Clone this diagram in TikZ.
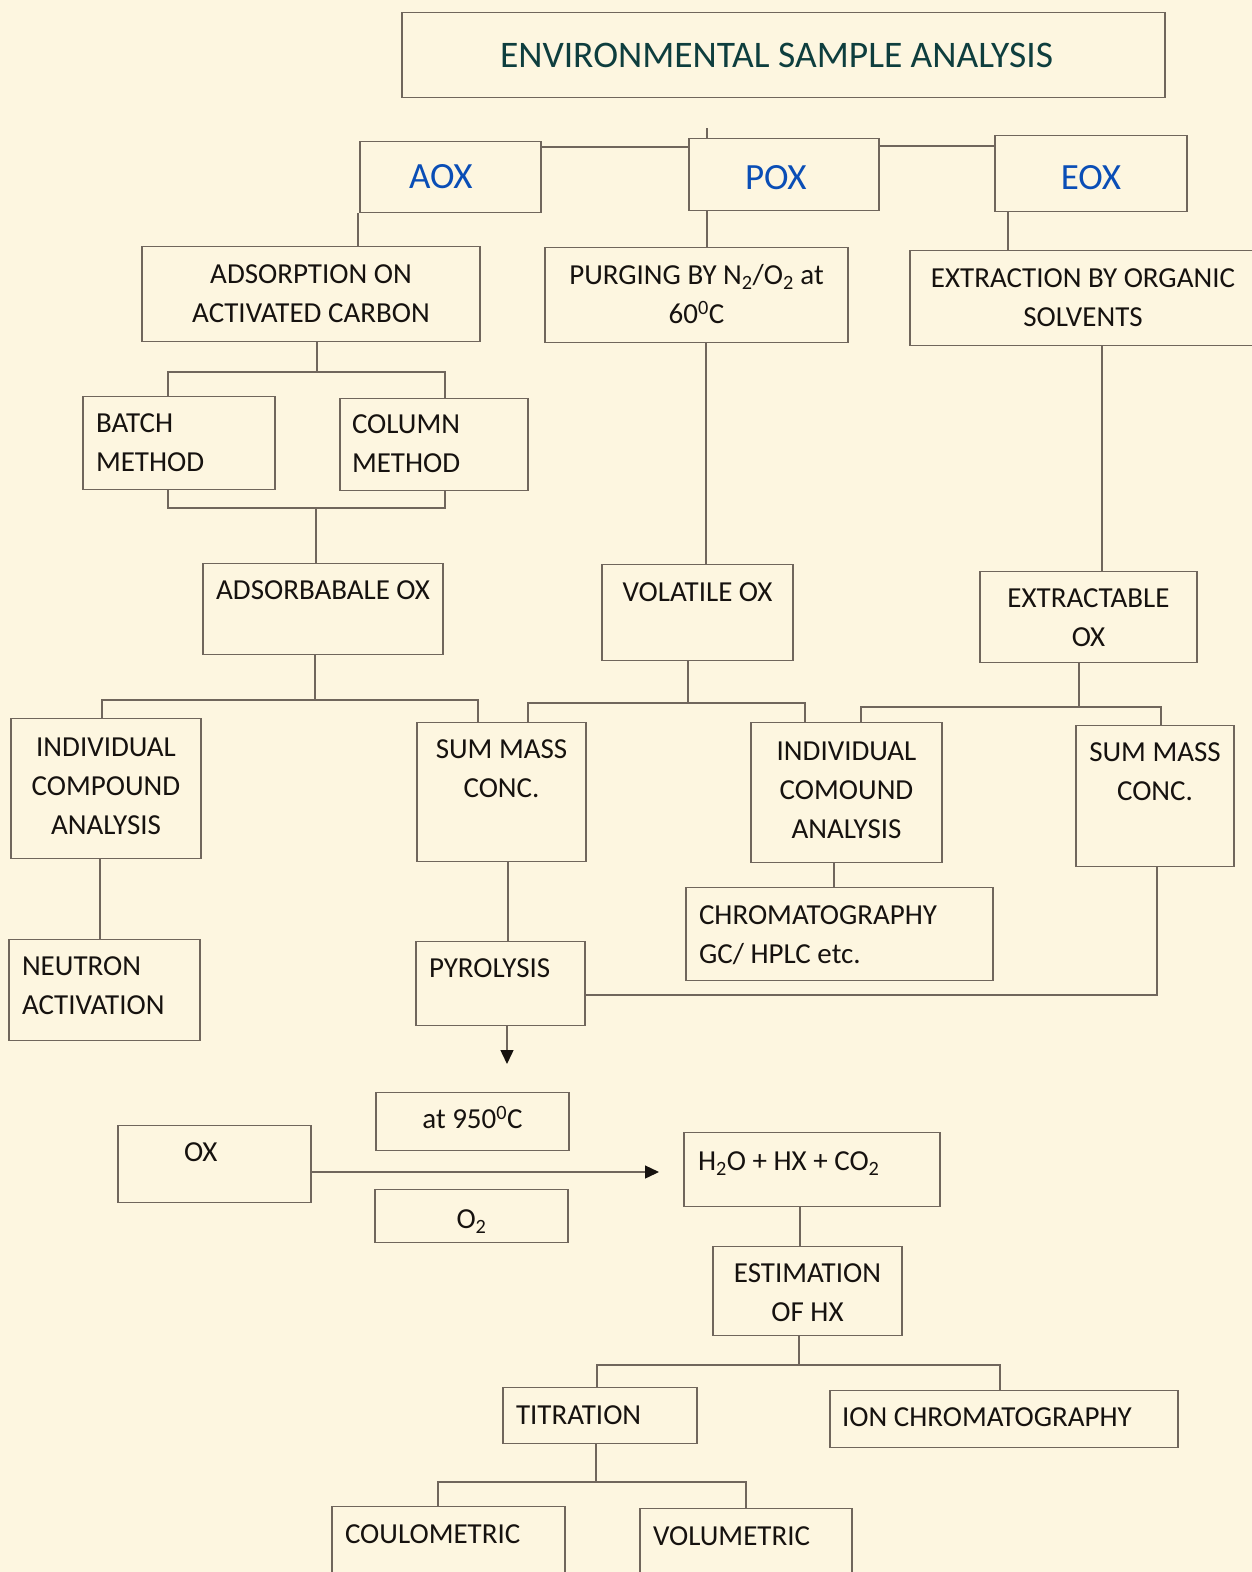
\documentclass[tikz,border=0pt]{standalone}
\usepackage{fontspec}
\setmainfont{Carlito}
\usetikzlibrary{arrows.meta}

\definecolor{paper}{RGB}{253,246,224}
\definecolor{edge}{RGB}{112,102,92}
\definecolor{ink}{RGB}{22,18,15}
\definecolor{titlec}{RGB}{14,62,62}
\definecolor{oxblue}{RGB}{10,78,182}

\begin{document}
\begin{tikzpicture}[x=1pt,y=-1pt,
  box/.style={draw=edge, line width=1.4pt, fill=paper, inner sep=0pt, anchor=north, text=ink, font=\fontsize{29}{39}\selectfont},
  head/.style={box, text=oxblue, font=\fontsize{37}{44}\selectfont},
  link/.style={draw=edge, line width=1.4pt},
  flow/.style={link, -{Triangle[length=14pt,width=13pt,color=ink]}}]
\fill[paper] (0,0) rectangle (1252,1572);
\useasboundingbox (0,0) rectangle (1252,1572);

\node[box, minimum width=763pt, text width=567pt, align=flush left, text height=54.5pt, text depth=30.5pt, text=titlec, font=\fontsize{37.5}{40}\selectfont] (title) at (783.5,12) {ENVIRONMENTAL SAMPLE ANALYSIS};

\node[head, minimum width=181pt, text width=83pt, align=flush left, text height=47pt, text depth=24pt] (aox) at (450.5,141) {AOX};
\node[head, minimum width=190pt, text width=78pt, align=flush left, text height=51pt, text depth=21pt] (pox) at (784,138) {POX};
\node[head, minimum width=192pt, text height=54pt, text depth=22pt] (eox) at (1091,135) {EOX};

\node[box, minimum width=338pt, text width=320pt, align=flush center, text height=36.5pt, text depth=58.5pt] (ads) at (311,246) {ADSORPTION ON\\ACTIVATED CARBON};
\node[box, minimum width=303pt, text width=290pt, align=flush center, text height=37pt, text depth=58pt] (purge) at (696.5,247) {PURGING BY N\textsubscript{2}/O\textsubscript{2} at\\60\textsuperscript{0}C};
\node[box, minimum width=346pt, text width=336pt, align=flush center, text height=36.5pt, text depth=58.5pt] (extr) at (1083,250) {EXTRACTION BY ORGANIC\\SOLVENTS};

\node[box, minimum width=192pt, text width=166pt, align=flush left, text height=35.5pt, text depth=57.5pt] (batch) at (179,396) {BATCH\\METHOD};
\node[box, minimum width=188pt, text width=164pt, align=flush left, text height=35pt, text depth=57pt] (column) at (434,398) {COLUMN\\METHOD};

\node[box, minimum width=240pt, text height=36pt, text depth=55pt] (adsox) at (323,563) {ADSORBABALE OX};
\node[box, minimum width=191pt, text height=37pt, text depth=59pt] (volox) at (697.5,564) {VOLATILE OX};
\node[box, minimum width=217pt, text width=205pt, align=flush center, text height=36pt, text depth=55pt] (extrox) at (1088.5,571) {EXTRACTABLE\\OX};

\node[box, minimum width=190pt, text width=180pt, align=flush center, text height=38pt, text depth=102pt] (indcomp) at (106,718) {INDIVIDUAL\\COMPOUND\\ANALYSIS};
\node[box, minimum width=169pt, text width=160pt, align=flush center, text height=36pt, text depth=103pt] (sumads) at (501.5,722) {SUM MASS\\CONC.};
\node[box, minimum width=191pt, text width=180pt, align=flush center, text height=38pt, text depth=102pt] (indvol) at (846.5,722) {INDIVIDUAL\\COMOUND\\ANALYSIS};
\node[box, minimum width=158pt, text width=154pt, align=flush center, text height=36pt, text depth=105pt] (sumext) at (1155,725) {SUM MASS\\CONC.};

\node[box, minimum width=191pt, text width=165pt, align=flush left, text height=36pt, text depth=65pt] (neutron) at (104.5,939) {NEUTRON\\ACTIVATION};
\node[box, minimum width=169pt, text width=143pt, align=flush left, text height=36pt, text depth=48pt] (pyro) at (500.5,941) {PYROLYSIS};
\node[box, minimum width=307pt, text width=281pt, align=flush left, text height=37pt, text depth=56pt] (chrom) at (839.5,887) {CHROMATOGRAPHY\\GC/ HPLC etc.};

\node[box, minimum width=193pt, text height=36pt, text depth=22pt] (temp) at (472.5,1092) {at 950\textsuperscript{0}C};
\node[box, minimum width=193pt, text width=61pt, align=flush left, text height=36pt, text depth=41pt] (ox) at (214.5,1125) {OX};
\node[box, minimum width=193pt, text height=39pt, text depth=14pt] (oxy) at (471.5,1189) {O\textsubscript{2}};
\node[box, minimum width=256pt, text width=228pt, align=flush left, text height=38pt, text depth=36pt] (prod) at (812,1132) {H\textsubscript{2}O + HX + CO\textsubscript{2}};
\node[box, minimum width=189pt, text width=180pt, align=flush center, text height=36pt, text depth=53pt] (estim) at (807.5,1246) {ESTIMATION\\OF HX};

\node[box, minimum width=194pt, text width=168pt, align=flush left, text height=37pt, text depth=19pt] (titr) at (600,1387) {TITRATION};
\node[box, minimum width=348pt, text width=324pt, align=flush left, text height=36pt, text depth=21pt] (ionchr) at (1004,1390) {ION CHROMATOGRAPHY};
\node[box, minimum width=233pt, text width=207pt, align=flush left, text height=37pt, text depth=57pt] (coul) at (448.5,1506) {COULOMETRIC};
\node[box, minimum width=212pt, text width=186pt, align=flush left, text height=37pt, text depth=55pt] (volu) at (746,1508) {VOLUMETRIC};

% top row
\coordinate (stub) at (707,128);
\draw[link] (aox.east |- 0,147) -- (pox.west |- 0,147);
\draw[link] (pox.east |- 0,146) -- (eox.west |- 0,146);
\draw[link] (pox.north -| stub) -- (stub);
\draw[link] (aox.south -| 358,0) -- (ads.north -| 358,0);
\draw[link] (pox.south -| 707,0) -- (purge.north -| 707,0);
\draw[link] (eox.south -| 1008,0) -- (extr.north -| 1008,0);

% methods
\coordinate (m1) at (317,372);
\draw[link] (ads.south -| m1) -- (m1);
\draw[link] (batch.north -| 168,0) |- (m1) -| (column.north -| 445,0);
\coordinate (m2) at (316,508);
\draw[link] (batch.south -| 168,0) |- (m2) -| (column.south -| 445,0);
\draw[link] (m2) -- (adsox.north -| m2);
\draw[link] (purge.south -| 706,0) -- (volox.north -| 706,0);
\draw[link] (extr.south -| 1102,0) -- (extrox.north -| 1102,0);

% analysis
\coordinate (a1) at (315,700);
\draw[link] (adsox.south -| a1) -- (a1);
\draw[link] (indcomp.north -| 102,0) |- (a1) -| (sumads.north -| 478,0);
\coordinate (v1) at (688,703);
\draw[link] (volox.south -| v1) -- (v1);
\draw[link] (sumads.north -| 528,0) |- (v1) -| (indvol.north -| 805,0);
\coordinate (e1) at (1079,707);
\draw[link] (extrox.south -| e1) -- (e1);
\draw[link] (indvol.north -| 861,0) |- (e1) -| (sumext.north -| 1161,0);

\draw[link] (indcomp.south -| 100,0) -- (neutron.north -| 100,0);
\draw[link] (sumads.south -| 508,0) -- (pyro.north -| 508,0);
\draw[link] (indvol.south -| 834,0) -- (chrom.north -| 834,0);
\draw[link] (sumext.south -| 1157,0) |- (pyro.east |- 0,995);

% combustion
\coordinate (burn) at (507,1064);
\draw[flow] (pyro.south -| burn) -- (burn);
\coordinate (gas) at (659,1172);
\draw[flow] (ox.east |- gas) -- (gas);

% estimation
\draw[link] (prod.south -| 800,0) -- (estim.north -| 800,0);
\coordinate (h1) at (799,1365);
\draw[link] (estim.south -| h1) -- (h1);
\draw[link] (titr.north -| 597,0) |- (h1) -| (ionchr.north -| 1000,0);
\coordinate (t1) at (596,1482);
\draw[link] (titr.south -| t1) -- (t1);
\draw[link] (coul.north -| 438,0) |- (t1) -| (volu.north -| 746,0);
\end{tikzpicture}
\end{document}
